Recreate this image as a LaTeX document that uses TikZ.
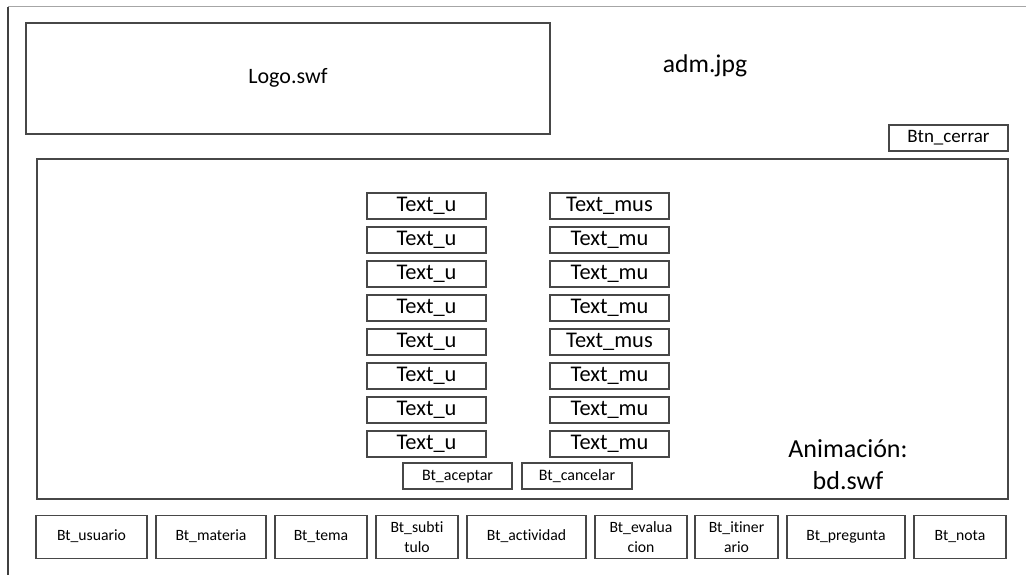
\documentclass[tikz,border=0pt]{standalone}
\usepackage{fontspec}
\setmainfont{Carlito}[Ligatures={NoCommon},RawFeature={-liga}]
\begin{document}
\begin{tikzpicture}[x=1pt,y=-1pt,
  box/.style={draw=black!72,line width=1.1pt,inner sep=0pt,align=center},
  txtbox/.style={box,minimum width=119pt,minimum height=26pt,text height=15.2pt,text depth=4pt,font=\fontsize{22.4}{26}\selectfont},
  btn/.style={box,minimum height=43pt,font=\fontsize{15.7}{19.5}\selectfont},
  one/.style={text height=10.7pt,text depth=2.8pt},
  smallbtn/.style={box,minimum height=26pt,text height=10.9pt,text depth=2.9pt,font=\fontsize{16}{19}\selectfont}]
\fill[white] (0,0) rectangle (1026,575);
\useasboundingbox (0,0) rectangle (1026,575);
% outer frame
\draw[black!35,line width=1pt] (8,7) -- (1026,7);
\draw[black!75,line width=1.3pt] (8,7) -- (8,575);
% header
\node[box,minimum width=524pt,minimum height=111pt,text height=15pt,text depth=4pt,font=\fontsize{22}{26}\selectfont] (logo) at (288,78.5) {Logo.swf};
\node[font=\fontsize{25.6}{30}\selectfont] (adm) at (705,66) {adm.jpg};
\node[box,minimum width=119pt,minimum height=26pt,text height=12.9pt,text depth=3.4pt,font=\fontsize{19}{22}\selectfont] (cerrar) at (948.5,138) {Btn\_cerrar};
% main panel
\node[box,minimum width=971pt,minimum height=340pt] (panel) at (522.5,329) {};
\foreach \i/\m in {0/mus,1/mu,2/mu,3/mu,4/mus,5/mu,6/mu,7/mu}{
  \node[txtbox] (u\i) at (426.5,{206+34*\i}) {Text\_u};
  \node[txtbox] (m\i) at (609.5,{206+34*\i}) {Text\_\m};
}
\node[smallbtn,minimum width=109pt] (aceptar) at (457.5,476) {Bt\_aceptar};
\node[smallbtn,minimum width=110pt] (cancelar) at (577,476) {Bt\_cancelar};
\node[font=\fontsize{26}{32}\selectfont,align=center] (anim) at (848,465) {Animación:\\bd.swf};
% bottom buttons
\node[btn,one,minimum width=111pt] (b1) at (91.5,537) {Bt\_usuario};
\node[btn,one,minimum width=110pt] (b2) at (211,537) {Bt\_materia};
\node[btn,one,minimum width=92pt] (b3) at (321,537) {Bt\_tema};
\node[btn,minimum width=82pt] (b4) at (417,537) {Bt\_subti\\tulo};
\node[btn,one,minimum width=119pt] (b5) at (526.5,537) {Bt\_actividad};
\node[btn,minimum width=92pt] (b6) at (641,537) {Bt\_evalua\\cion};
\node[btn,minimum width=83pt] (b7) at (736.5,537) {Bt\_itiner\\ario};
\node[btn,one,minimum width=118pt] (b8) at (846,537) {Bt\_pregunta};
\node[btn,one,minimum width=92pt] (b9) at (960,537) {Bt\_nota};
\end{tikzpicture}
\end{document}
